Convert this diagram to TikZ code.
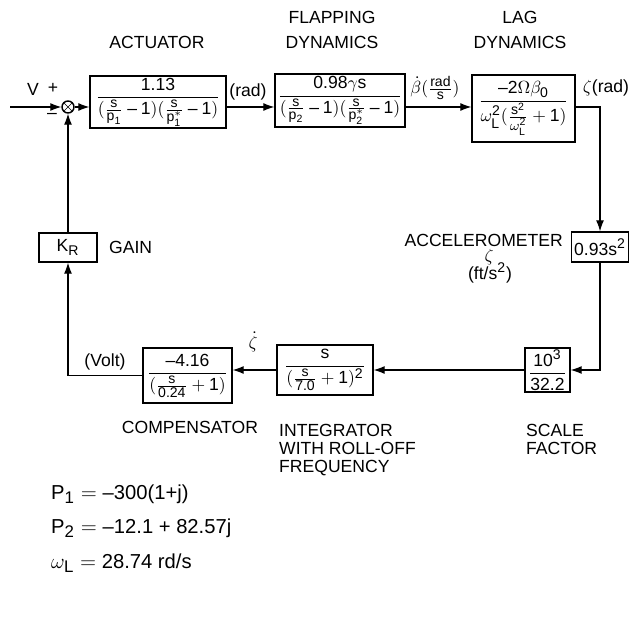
\documentclass[tikz,border=0pt]{standalone}
\usepackage{amsmath}
\usepackage{fontspec}
\setmainfont{Liberation Sans}
\usepackage{mathastext}
\usetikzlibrary{arrows.meta}
\begin{document}
\begin{tikzpicture}[x=0.02cm,y=-0.02cm,>={Latex[length=2.2mm,width=1.6mm]},
    blk/.style={draw,thick,inner sep=1pt},
    ttl/.style={align=center,font=\fontsize{10}{14.2}\selectfont},
    eqn/.style={anchor=west,font=\fontsize{11.5}{14}\selectfont}]
    \useasboundingbox (0,0) rectangle (635,618);
    \node[ttl] (tact) at (157,42) {ACTUATOR};
    \node[ttl] (tflap) at (332,30) {FLAPPING\\DYNAMICS};
    \node[ttl] (tlag) at (520,30) {LAG\\DYNAMICS};
    \node[circle,draw,thick,inner sep=0pt,minimum size=0.24cm] (sum) at (68,107) {};
    \draw (sum.north west) -- (sum.south east) (sum.north east) -- (sum.south west);
    \coordinate (vin) at (10,107);
    \node (lv) at (33,89) {V};
    \node (lplus) at (53,88) {+};
    \node (lminus) at (52,116) {$-$};
    \node[blk,minimum width=2.72cm,minimum height=1.04cm] (act) at (158,102)
        {$\dfrac{\text{1.13}}{(\frac{s}{p_{\text{1}}}-\text{1})(\frac{s}{p_{\text{1}}^*}-\text{1})}$};
    \node[blk,minimum width=2.6cm,minimum height=1.06cm] (flap) at (340,100.5)
        {$\dfrac{\text{0.98}\gamma s}{(\frac{s}{p_{\text{2}}}-\text{1})(\frac{s}{p_{\text{2}}^*}-\text{1})}$};
    \node[blk,minimum width=2.06cm,minimum height=1.34cm] (lag) at (523.5,108.5)
        {$\dfrac{-\text{2}\Omega\beta_{\text{0}}}{\omega_L^{\text{2}}(\frac{s^{\text{2}}}{\omega_L^{\text{2}}}+\text{1})}$};
    \node[blk,minimum width=1.14cm,minimum height=0.6cm] (acc) at (600,247) {$\text{0.93}s^{\text{2}}$};
    \node[blk,minimum width=0.9cm,minimum height=0.86cm] (scale) at (547.5,370)
        {$\dfrac{\text{10}^{\text{3}}}{\text{32.2}}$};
    \node[blk,minimum width=1.92cm,minimum height=1.0cm] (integ) at (325,370)
        {$\dfrac{s}{(\frac{s}{\text{7.0}}+\text{1})^{\text{2}}}$};
    \node[blk,minimum width=1.78cm,minimum height=1.1cm] (comp) at (187.5,375.5)
        {$\dfrac{-\text{4.16}}{(\frac{s}{\text{0.24}}+\text{1})}$};
    \node[blk,minimum width=1.16cm,minimum height=0.58cm] (gain) at (68,247.5) {$K_R$};
    \node (lrad) at (248,92) {(rad)};
    \node (lbeta) at (435,88) {$\dot{\beta}(\frac{\text{rad}}{\text{s}})$};
    \node (lzeta) at (606,88) {$\zeta$(rad)};
    \node[anchor=east] (tacc) at (569,240) {ACCELEROMETER};
    \node (lacc) at (489,257) {$\zeta$};
    \node (lft) at (490,273) {(ft/s$^{\text{2}}$)};
    \node (lzdot) at (253,342) {$\dot{\zeta}$};
    \node (lvolt) at (105,362) {(Volt)};
    \node[anchor=west] (tgain) at (103,247) {GAIN};
    \node (tcomp) at (190,427) {COMPENSATOR};
    \node[ttl,align=left,anchor=north west,font=\fontsize{10}{10.2}\selectfont] (tinteg) at (273,418)
        {INTEGRATOR\\WITH ROLL-OFF\\FREQUENCY};
    \node[ttl,align=left,anchor=north west,font=\fontsize{10}{10.2}\selectfont] (tscale) at (520,418)
        {SCALE\\FACTOR};
    \node[eqn] (eqa) at (45,494) {$P_{\text{1}} = -$300(1+j)};
    \node[eqn] (eqb) at (45,528) {$P_{\text{2}} = -$12.1 + 82.57j};
    \node[eqn] (eqc) at (45,563) {$\omega_L = $ 28.74 rd/s};
    \draw[semithick,->] (vin) -- (sum.west);
    \draw[semithick,->] (sum.east) -- (act.west |- sum);
    \draw[semithick,->] (act.east |- sum) -- (flap.west |- sum);
    \draw[semithick,->] (flap.east |- sum) -- (lag.west |- sum);
    \draw[semithick,->] (lag.east |- sum) -| (acc.north);
    \draw[semithick,->] (acc.south) |- (scale.east);
    \draw[semithick,->] (scale.west) -- (integ.east);
    \draw[semithick,->] (integ.west) -- (integ.west -| comp.east);
    \draw[semithick,->] (comp.west) -| (gain.south);
    \draw[semithick,->] (gain.north) -- (sum.south);
\end{tikzpicture}
\end{document}
